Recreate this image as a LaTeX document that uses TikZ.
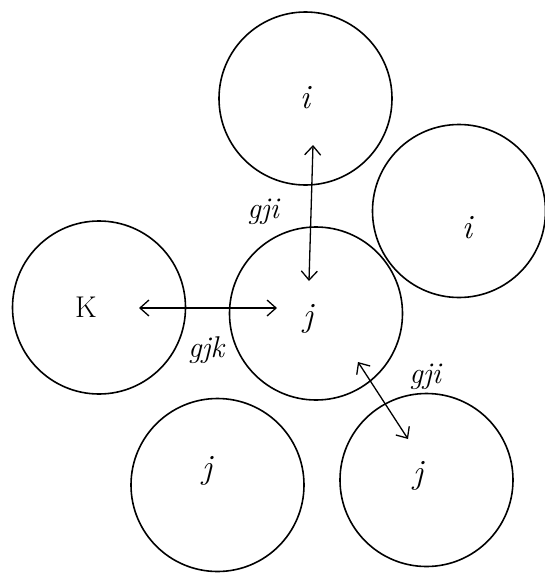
\documentclass[tikz,border=0pt]{standalone}
\usepackage{fontspec}
\usetikzlibrary{arrows.meta}
\newcommand\myitfont{\fontsize{34pt}{38pt}\selectfont\itshape}
\newcommand\mysmfont{\fontsize{30pt}{34pt}\selectfont\itshape}
\newcommand\myupfont{\fontsize{30pt}{34pt}\selectfont\upshape}
\begin{document}
\begin{tikzpicture}[x=1pt,y=-1pt,
  ball/.style={draw, circle, line width=1.6pt, minimum size=173pt, inner sep=0pt},
  lbl/.style={font=\myitfont, inner sep=0pt},
  glbl/.style={font=\mysmfont, inner sep=0pt},
  link/.style={line width=1.3pt, {Straight Barb[length=9pt,width=16pt,line width=1.3pt]}-{Straight Barb[length=9pt,width=16pt,line width=1.3pt]}}]
\useasboundingbox (0,0) rectangle (545,582);
\fill[white] (0,0) rectangle (545,582);
% circles
\node[ball] (ti) at (305.5,98.5) {};
\node[ball] (ri) at (459,211) {};
\node[ball] (lk) at (99,307.5) {};
\node[ball] (mj) at (316,313.5) {};
\node[ball] (bj) at (217.5,485) {};
\node[ball] (rj) at (426.5,480) {};
% letters
\node[lbl] (tit) at (305,98) {i};
\node[lbl] (rit) at (467,228) {i};
\node[lbl,font=\myupfont] (lkt) at (86,307) {K};
\node[lbl] (mjt) at (308,319) {j};
\node[lbl] (bjt) at (207,471) {j};
\node[lbl] (rjt) at (418,476) {j};
% connector ends
\coordinate (v1) at (313,145);
\coordinate (v2) at (309,281);
\coordinate (h1) at (139,308);
\coordinate (h2) at (277,308);
\coordinate (d1) at (358,362);
\coordinate (d2) at (408,439);
\draw[link] (v1) -- (v2);
\draw[link] (h1) -- (h2);
\draw[link] (d1) -- (d2);
% connector labels
\node[glbl] (g1) at (263,212) {gji};
\node[glbl] (g2) at (206,350) {gjk};
\node[glbl] (g3) at (425,377) {gji};
\end{tikzpicture}
\end{document}
